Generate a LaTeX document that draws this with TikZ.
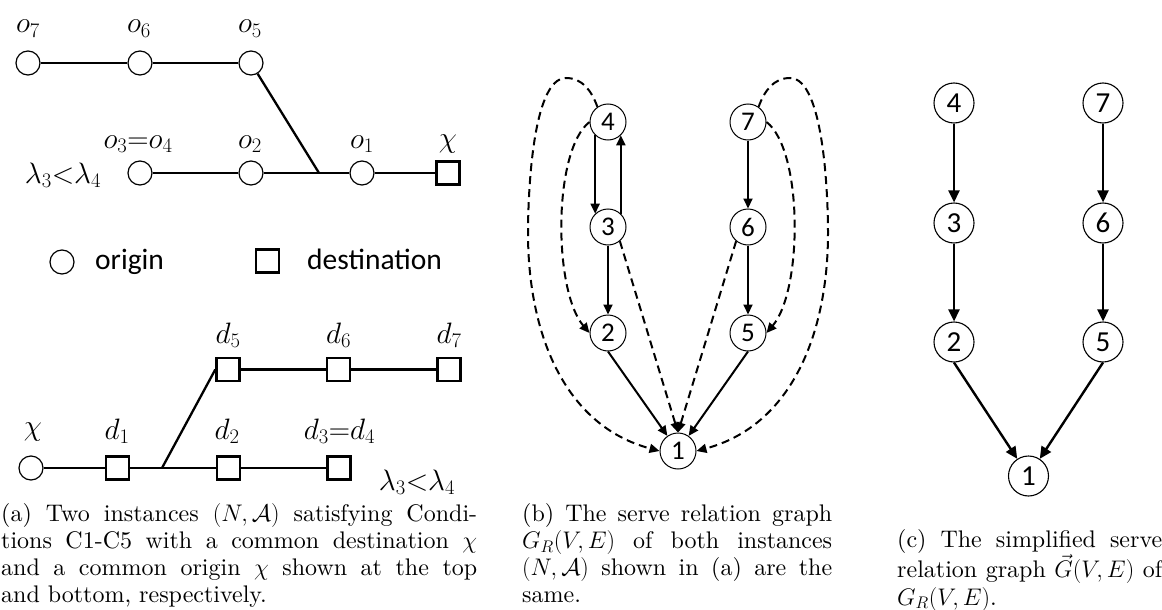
\RequirePackage{fix-cm}
\documentclass[tikz,border=0pt]{standalone}
\usepackage{fontspec}
\setmainfont{lmroman10-regular.otf}[ItalicFont=lmroman10-italic.otf,BoldFont=lmroman10-bold.otf]
\newfontfamily\calib{Carlito}
\usetikzlibrary{arrows.meta}
\begin{document}
\begin{tikzpicture}[x=1pt,y=1pt,
  orig/.style={circle,draw,fill=white,line width=1.2pt,minimum size=24pt,inner sep=0pt},
  dest/.style={rectangle,draw,fill=white,line width=2.4pt,minimum size=23pt,inner sep=0pt},
  road/.style={line width=2.3pt},
  lab/.style={anchor=base,inner sep=0pt,font=\fontsize{29.5}{34}\selectfont},
  legtxt/.style={anchor=base west,inner sep=0pt,font=\calib\fontsize{29.5}{34}\selectfont},
  vtx/.style={circle,draw,line width=1pt,minimum size=36pt,inner sep=0pt,font=\calib\fontsize{27}{30}\selectfont},
  vtxc/.style={circle,draw,line width=1.1pt,minimum size=40pt,inner sep=0pt,font=\calib\fontsize{29}{32}\selectfont},
  arr/.style={line width=2pt,-{Triangle[length=10pt,width=9pt]}},
  darr/.style={arr,dash pattern=on 8pt off 5pt},
  arrc/.style={line width=2.4pt,-{Triangle[length=12pt,width=11pt]}},
  capt/.style={anchor=north west,inner sep=0pt,align=justify,font=\fontsize{24}{27.2}\selectfont}
]
\useasboundingbox (0,0) rectangle (1162,-610);

% ---------- (a) top instance ----------
\node[orig] (o7) at (28,-63) {};
\node[orig] (o6) at (140,-63) {};
\node[orig] (o5) at (251,-63) {};
\node[orig] (o34) at (140,-173) {};
\node[orig] (o2) at (251,-173) {};
\coordinate (j1) at (319,-173);
\node[orig] (o1) at (362,-173) {};
\node[dest] (chiA) at (448,-173) {};
\draw[road] (o7) -- (o6);
\draw[road] (o6) -- (o5);
\draw[road] (o5) -- (j1);
\draw[road] (o34) -- (o2);
\draw[road] (o2) -- (o1);
\draw[road] (o1) -- (chiA);
\node[lab] (lo7) at (28,-33) {$o_7$};
\node[lab] (lo6) at (139,-33) {$o_6$};
\node[lab] (lo5) at (250,-33) {$o_5$};
\node[lab] (lo34) at (138,-148) {$o_3{=}o_4$};
\node[lab] (lo2) at (250,-148) {$o_2$};
\node[lab] (lo1) at (362,-148) {$o_1$};
\node[lab] (lchiA) at (448,-147) {$\chi$};
\node[lab] (llamA) at (63,-183) {$\lambda_3{<}\lambda_4$};

% ---------- legend ----------
\node[orig] (lego) at (62,-262) {};
\node[legtxt] (legot) at (95,-269) {origin};
\node[dest] (legd) at (267.5,-261) {};
\node[legtxt] (legdt) at (307,-269) {destination};

% ---------- (a) bottom instance ----------
\node[dest] (d5) at (228,-369.5) {};
\node[dest] (d6) at (338.5,-369.5) {};
\node[dest] (d7) at (449,-369.5) {};
\node[orig] (chiB) at (31,-468) {};
\node[dest] (d1) at (117.5,-468) {};
\coordinate (j2) at (162,-468);
\node[dest] (d2) at (228.5,-468) {};
\node[dest] (d34) at (339,-468) {};
\draw[road] (d5) -- (d6);
\draw[road] (d6) -- (d7);
\draw[road] (chiB) -- (d1);
\draw[road] (d1) -- (d2);
\draw[road] (d2) -- (d34);
\draw[road] (j2) -- (d5.west);
\node[lab] (ld5) at (228,-343) {$d_5$};
\node[lab] (ld6) at (338.5,-343) {$d_6$};
\node[lab] (ld7) at (449,-343) {$d_7$};
\node[lab] (lchiB) at (33,-435) {$\chi$};
\node[lab] (ld1) at (117,-439) {$d_1$};
\node[lab] (ld2) at (227,-439) {$d_2$};
\node[lab] (ld34) at (339.5,-439) {$d_3{=}d_4$};
\node[lab] (llamB) at (417,-490) {$\lambda_3{<}\lambda_4$};

% ---------- (b) ----------
\node[vtx] (b4) at (608,-122) {4};
\node[vtx] (b7) at (748,-122) {7};
\node[vtx] (b3) at (608,-227) {3};
\node[vtx] (b6) at (748,-227) {6};
\node[vtx] (b2) at (608,-333) {2};
\node[vtx] (b5) at (748,-333) {5};
\node[vtx] (b1) at (678,-451) {1};
\draw[arr] (b4.-134) -- (b3.134);
\draw[arr] (b3.46) -- (b4.-46);
\draw[arr] (b3) -- (b2);
\draw[arr] (b7) -- (b6);
\draw[arr] (b6) -- (b5);
\draw[arr] (b2.south) -- (b1);
\draw[arr] (b5.south) -- (b1);
\draw[darr] (b3.-50) -- (b1.north);
\draw[darr] (b6.-130) -- (b1.north);
\draw[darr] (b4.west) .. controls (553,-150) and (553,-290) .. (b2.west);
\draw[darr] (b7.east) .. controls (803,-150) and (803,-290) .. (b5.east);
\draw[darr] (b4.125) to[out=110,in=0] (566,-78) to[out=180,in=90,looseness=0.55] (528,-233) to[out=-90,in=165] (b1.west);
\draw[darr] (b7.55) to[out=70,in=180] (790,-78) to[out=0,in=90,looseness=0.55] (828,-233) to[out=-90,in=15] (b1.east);

% ---------- (c) ----------
\node[vtxc] (c4) at (954,-103) {4};
\node[vtxc] (c7) at (1103,-103) {7};
\node[vtxc] (c3) at (954,-223) {3};
\node[vtxc] (c6) at (1103,-223) {6};
\node[vtxc] (c2) at (954,-342) {2};
\node[vtxc] (c5) at (1103,-342) {5};
\node[vtxc] (c1) at (1028.5,-476) {1};
\draw[arrc] (c4) -- (c3);
\draw[arrc] (c3) -- (c2);
\draw[arrc] (c7) -- (c6);
\draw[arrc] (c6) -- (c5);
\draw[arrc] (c2.south) -- (c1);
\draw[arrc] (c5.south) -- (c1);

% ---------- captions ----------
\node[capt,text width=476pt] (capa) at (1,-503) {(a) Two instances $(N,\mathcal{A})$ satisfying Condi-\linebreak tions C1-C5 with a common destination $\chi$\linebreak and a common origin $\chi$ shown at the top\linebreak and bottom, respectively.};
\node[capt,text width=310pt] (capb) at (522,-503) {(b) The serve relation graph\linebreak $G_R(V,E)$ of both instances\linebreak $(N,\mathcal{A})$ shown in (a) are the\linebreak same.};
\node[capt,text width=265pt] (capc) at (897,-529.5) {(c) The simplified serve\linebreak relation graph $\vec{G}(V,E)$ of\linebreak $G_R(V,E)$.};
\end{tikzpicture}
\end{document}
